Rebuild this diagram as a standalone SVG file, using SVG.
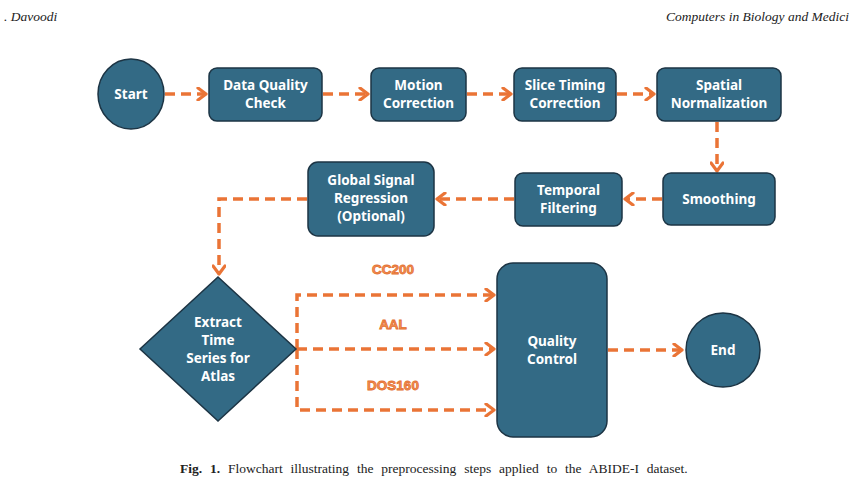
<svg xmlns="http://www.w3.org/2000/svg" width="850" height="500" viewBox="0 0 850 500">
<style>
.node{fill:#336A85;stroke:#1c3444;stroke-width:1.5}
.lbl{font-family:"Noto Sans","Open Sans",sans-serif;font-weight:bold;font-size:13.5px;fill:#ffffff;text-anchor:middle}
.con{fill:none;stroke:#EA7436;stroke-width:3.5;stroke-dasharray:10 6}
.atlas{font-family:"Liberation Sans",Arial,sans-serif;font-weight:bold;font-size:13.5px;fill:#F29058;stroke:#E4702F;stroke-width:0.8;text-anchor:middle}
.hdr{font-family:"Liberation Serif","Times New Roman",serif;font-style:italic;font-size:13.5px;fill:#222}
.cap{font-family:"Liberation Serif","Times New Roman",serif;font-size:13.5px;fill:#222;word-spacing:4.5px}
</style>
<defs>
<marker id="ah" viewBox="0 0 12 14" refX="10" refY="7" markerWidth="12" markerHeight="14" markerUnits="userSpaceOnUse" orient="auto">
<path d="M2,1 L10,7 L2,13" fill="none" stroke="#EA7436" stroke-width="3.2" stroke-linecap="round" stroke-linejoin="round"/>
</marker>
</defs>
<rect width="850" height="500" fill="#ffffff"/>
<text class="hdr" x="4" y="21">. Davoodi</text>
<text class="hdr" x="849" y="21" text-anchor="end">Computers in Biology and Medici</text>

<g id="connectors">
<path class="con" d="M165,94 H206" marker-end="url(#ah)"/>
<path class="con" d="M323,94 H368" marker-end="url(#ah)"/>
<path class="con" d="M467,94 H511" marker-end="url(#ah)"/>
<path class="con" d="M617,94 H654" marker-end="url(#ah)"/>
<path class="con" d="M717,122 V171" marker-end="url(#ah)"/>
<path class="con" d="M662,199 H625" marker-end="url(#ah)"/>
<path class="con" d="M514,199 H437" marker-end="url(#ah)"/>
<path class="con" d="M307,199 H219 V274" marker-end="url(#ah)"/>
<path class="con" d="M297,349 V295 H494" marker-end="url(#ah)"/>
<path class="con" d="M297,349 H494" marker-end="url(#ah)"/>
<path class="con" d="M297,349 V410 H494" marker-end="url(#ah)"/>
<path class="con" d="M608,350 H682" marker-end="url(#ah)"/>
<text class="atlas" x="393" y="274">CC200</text>
<text class="atlas" x="393" y="329">AAL</text>
<text class="atlas" x="393" y="390">DOS160</text>
</g>

<g id="start">
<ellipse class="node" cx="131" cy="94" rx="33" ry="35"/>
<text class="lbl" x="131" y="99">Start</text>
</g>
<g id="dqc">
<rect class="node" x="209" y="68" width="113" height="53" rx="8"/>
<text class="lbl" x="265.5" y="90">Data Quality</text>
<text class="lbl" x="265.5" y="108">Check</text>
</g>
<g id="motion">
<rect class="node" x="371" y="68" width="95" height="53" rx="8"/>
<text class="lbl" x="418.5" y="90">Motion</text>
<text class="lbl" x="418.5" y="108">Correction</text>
</g>
<g id="slice">
<rect class="node" x="514" y="68" width="102" height="53" rx="8"/>
<text class="lbl" x="565" y="90">Slice Timing</text>
<text class="lbl" x="565" y="108">Correction</text>
</g>
<g id="spatial">
<rect class="node" x="657" y="68" width="124" height="53" rx="8"/>
<text class="lbl" x="719" y="90">Spatial</text>
<text class="lbl" x="719" y="108">Normalization</text>
</g>
<g id="smoothing">
<rect class="node" x="663" y="173" width="112" height="52" rx="8"/>
<text class="lbl" x="719" y="204">Smoothing</text>
</g>
<g id="temporal">
<rect class="node" x="515" y="173" width="107" height="53" rx="8"/>
<text class="lbl" x="568.5" y="195">Temporal</text>
<text class="lbl" x="568.5" y="213">Filtering</text>
</g>
<g id="gsr">
<rect class="node" x="308" y="162" width="126" height="74" rx="10"/>
<text class="lbl" x="371" y="185">Global Signal</text>
<text class="lbl" x="371" y="203">Regression</text>
<text class="lbl" x="371" y="221">(Optional)</text>
</g>
<g id="extract">
<path class="node" d="M218,277 L296,349 L218,421 L140,349 Z"/>
<text class="lbl" x="218" y="327">Extract</text>
<text class="lbl" x="218" y="345">Time</text>
<text class="lbl" x="218" y="363">Series for</text>
<text class="lbl" x="218" y="381">Atlas</text>
</g>
<g id="qc">
<rect class="node" x="497" y="263" width="110" height="174" rx="16"/>
<text class="lbl" x="552" y="346">Quality</text>
<text class="lbl" x="552" y="364">Control</text>
</g>
<g id="end">
<circle class="node" cx="723" cy="350" r="37"/>
<text class="lbl" x="723" y="355">End</text>
</g>

<text class="cap" x="180" y="473"><tspan font-weight="bold">Fig. 1.</tspan> Flowchart illustrating the preprocessing steps applied to the ABIDE-I dataset.</text>
</svg>
